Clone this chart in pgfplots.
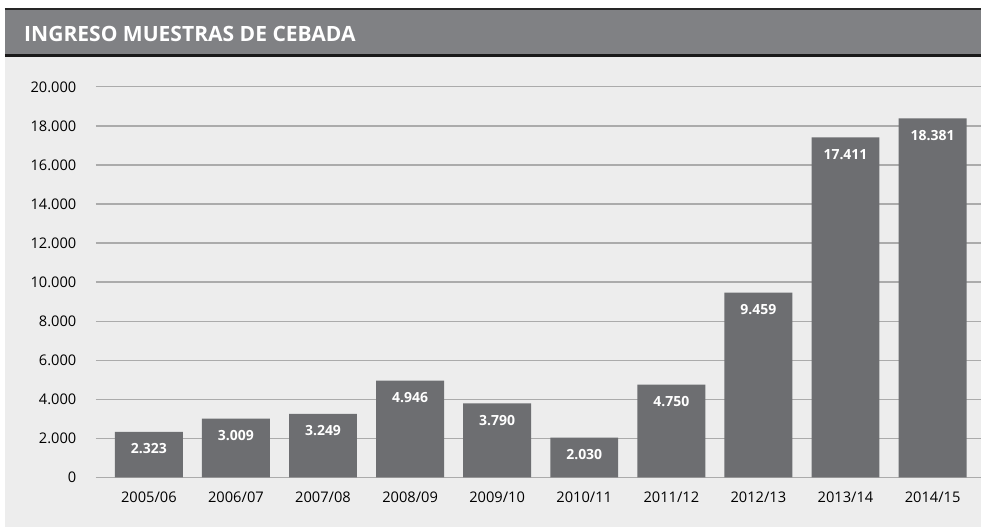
\documentclass[border=0pt]{standalone}
\usepackage{pgfplots}
\pgfplotsset{compat=1.18}
\usepackage{fontspec}
\setmainfont{Open Sans}
\definecolor{bg}{HTML}{EDEDED}
\definecolor{barc}{HTML}{6D6E71}
\definecolor{titlec}{HTML}{808184}
\definecolor{gridc}{HTML}{ABABAB}
\begin{document}
\begin{tikzpicture}[x=0.75pt,y=0.75pt]
\fill[white] (0,0) rectangle (982,528);
\fill[bg] (5,0) rectangle (982,473);
\fill[titlec] (5,473) rectangle (982,518.5);
\draw[black!85,line width=1.5] (5,518.5) -- (982,518.5);
\draw[black!90,line width=2.2] (5,472.5) -- (982,472.5);
\node[anchor=west,inner sep=0pt,text=white,font=\bfseries\fontsize{15.8}{18}\selectfont] at (24,494) {INGRESO MUESTRAS DE CEBADA};
\begin{scope}[shift={(72pt,37.5pt)}]
\begin{axis}[
  at={(0pt,0pt)}, anchor=south west,
  scale only axis,
  width=664.5pt, height=293.25pt,
  xmin=-0.6085, xmax=9.551,
  ymin=0, ymax=20000,
  axis line style={draw=none},
  major tick length=0pt,
  tick style={draw=none},
  ytick={0,2000,...,20000},
  scaled y ticks=false,
  xtick={0,...,9},
  xticklabels={2005/06,2006/07,2007/08,2008/09,2009/10,2010/11,2011/12,2012/13,2013/14,2014/15},
  ymajorgrids,
  grid style={gridc,line width=0.9pt},
  /pgf/number format/.cd, fixed, 1000 sep={.}, assume math mode=true,
  /pgfplots/.cd,
  ticklabel style={font=\fontsize{11}{13}\selectfont,text=black},
  yticklabel style={anchor=east,inner sep=0pt,xshift=-14.5pt},
  xticklabel style={anchor=north,inner sep=0pt,yshift=-10.5pt},
  clip=false,
  ybar, bar width=51pt,
  nodes near coords,
  nodes near coords style={anchor=center,yshift=-12.75pt,text=white,font=\bfseries\fontsize{10.5}{12}\selectfont},
]
\addplot[fill=barc,draw=none] coordinates {
(0,2323) (1,3009) (2,3249) (3,4946) (4,3790) (5,2030) (6,4750) (7,9459) (8,17411) (9,18381)
};
\end{axis}
\end{scope}
\end{tikzpicture}
\end{document}
